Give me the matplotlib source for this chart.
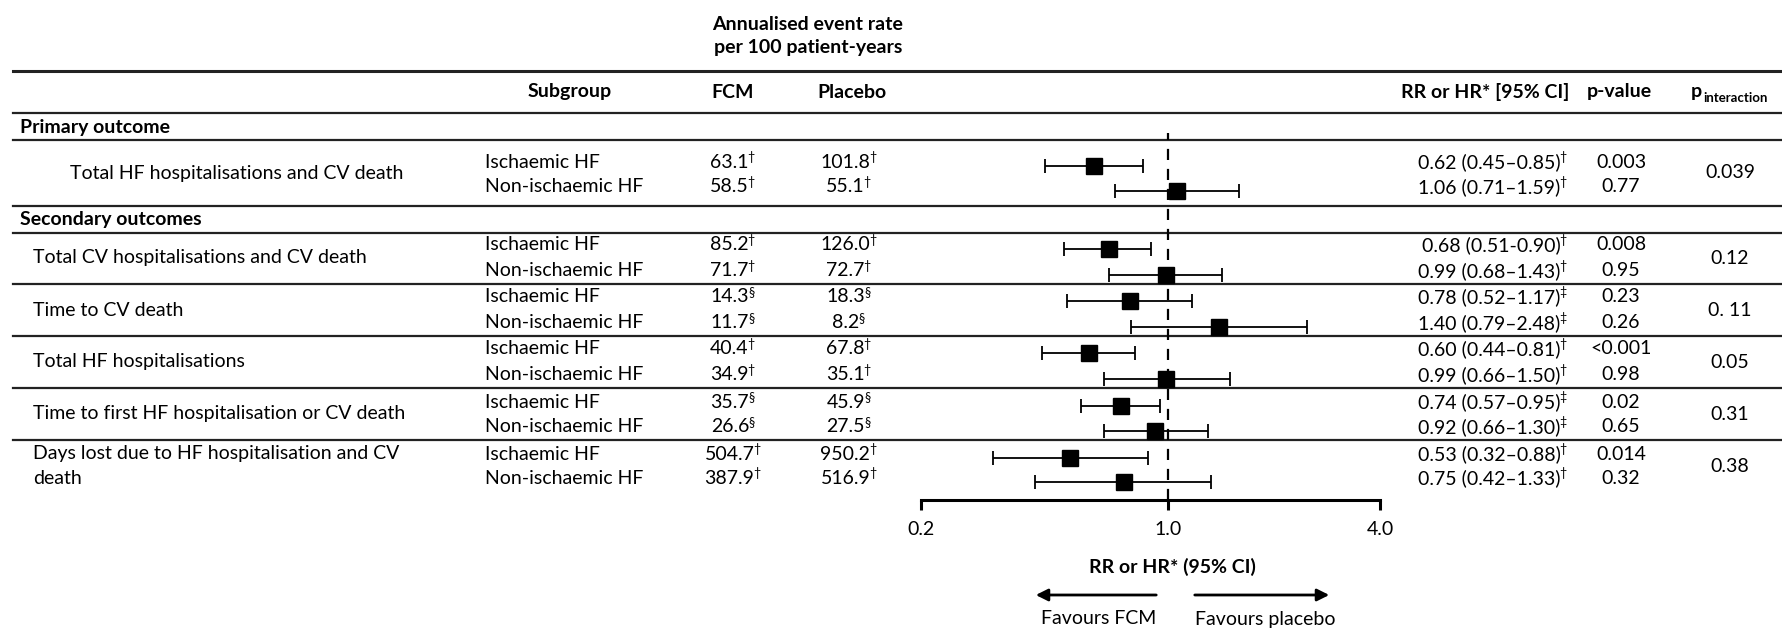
import numpy as np
import matplotlib
matplotlib.use('Agg')
import matplotlib.pyplot as plt

plt.rcParams['font.family'] = ['Lato', 'DejaVu Sans']

# outcome groups and subgroups
outcomes = ['Total HF hospitalisations and CV death',
            'Total CV hospitalisations and CV death',
            'Time to CV death',
            'Total HF hospitalisations',
            'Time to first HF hospitalisation or CV death',
            'Days lost due to HF hospitalisation and CV\ndeath']
subgroups = ['Ischaemic HF', 'Non-ischaemic HF'] * 6

# annualised event rates per 100 patient-years
fcm_rate = ['63.1', '58.5', '85.2', '71.7', '14.3', '11.7',
            '40.4', '34.9', '35.7', '26.6', '504.7', '387.9']
placebo_rate = ['101.8', '55.1', '126.0', '72.7', '18.3', '8.2',
                '67.8', '35.1', '45.9', '27.5', '950.2', '516.9']
rate_mark = ['†', '†', '†', '†', '§', '§', '†', '†', '§', '§', '†', '†']

# RR / HR with 95% CI
est = [0.62, 1.06, 0.68, 0.99, 0.78, 1.40, 0.60, 0.99, 0.74, 0.92, 0.53, 0.75]
lo = [0.45, 0.71, 0.51, 0.68, 0.52, 0.79, 0.44, 0.66, 0.57, 0.66, 0.32, 0.42]
hi = [0.85, 1.59, 0.90, 1.43, 1.17, 2.48, 0.81, 1.50, 0.95, 1.30, 0.88, 1.33]
ci_labels = ['0.62 (0.45–0.85)', '1.06 (0.71–1.59)', '0.68 (0.51-0.90)',
             '0.99 (0.68–1.43)', '0.78 (0.52–1.17)', '1.40 (0.79–2.48)',
             '0.60 (0.44–0.81)', '0.99 (0.66–1.50)', '0.74 (0.57–0.95)',
             '0.92 (0.66–1.30)', '0.53 (0.32–0.88)', '0.75 (0.42–1.33)']
ci_mark = ['†', '†', '†', '†', '‡', '‡', '†', '†', '‡', '‡', '†', '†']
p_values = ['0.003', '0.77', '0.008', '0.95', '0.23', '0.26',
            '<0.001', '0.98', '0.02', '0.65', '0.014', '0.32']
p_interaction = ['0.039', '0.12', '0. 11', '0.05', '0.31', '0.38']
axis_ticks = [0.2, 1.0, 4.0]
axis_ticklabels = ['0.2', '1.0', '4.0']

# layout in pixels
W, H = 1783, 629
FS = 14
SUP_FS = 9
row_y = [162, 187, 245, 271, 297, 323, 349, 375, 402, 427, 454, 478]
group_y = [173, 258, 310, 362, 414, 466]
rule_y = [113, 140, 206, 233, 284, 336, 388, 440]

fig = plt.figure(figsize=(W / 100, H / 100), dpi=100)
tab = fig.add_axes([0, 0, 1, 1])
tab.set_xlim(0, W)
tab.set_ylim(H, 0)
tab.axis('off')
renderer = fig.canvas.get_renderer()


def text_width(s, size):
    t = tab.text(0, 0, s, fontsize=size)
    w = t.get_window_extent(renderer).width
    t.remove()
    return w


def text_with_mark(x, y, base, mark, ha):
    # base text plus a small raised footnote sign
    wb = text_width(base, FS)
    wm = text_width(mark, SUP_FS)
    if ha == 'center':
        x0 = x - (wb + wm) / 2
    else:
        x0 = x - wb - wm
    tab.text(x0, y, base, ha='left', va='center', fontsize=FS)
    tab.text(x0 + wb - 1, y - 5, mark, ha='left', va='center', fontsize=SUP_FS)


# header
tab.text(808, 25, 'Annualised event rate', ha='center', va='center', fontsize=FS, fontweight='bold')
tab.text(808, 48, 'per 100 patient-years', ha='center', va='center', fontsize=FS, fontweight='bold')
tab.plot([13, W], [71, 71], color='#222222', lw=2.2)
hdr = dict(va='center', fontsize=FS, fontweight='bold')
tab.text(570, 92, 'Subgroup', ha='center', **hdr)
tab.text(733, 92, 'FCM', ha='center', **hdr)
tab.text(852, 92, 'Placebo', ha='center', **hdr)
tab.text(1485, 92, 'RR or HR* [95% CI]', ha='center', **hdr)
tab.text(1619, 92, 'p-value', ha='center', **hdr)
tab.text(1691, 92, 'p', ha='left', **hdr)
tab.text(1703, 98, 'interaction', ha='left', va='center', fontsize=9.5, fontweight='bold')

for y in rule_y:
    tab.plot([13, W], [y, y], color='#222222', lw=1.6)

tab.text(20, 127, 'Primary outcome', ha='left', **hdr)
tab.text(20, 219, 'Secondary outcomes', ha='left', **hdr)

for g, name in enumerate(outcomes):
    x = 70 if g == 0 else 33
    tab.text(x, group_y[g], name, ha='left', va='center', fontsize=FS, linespacing=1.5)
    tab.text(1730, group_y[g], p_interaction[g], ha='center', va='center', fontsize=FS)

for i, y in enumerate(row_y):
    tab.text(485, y, subgroups[i], ha='left', va='center', fontsize=FS)
    text_with_mark(733, y, fcm_rate[i], rate_mark[i], 'center')
    text_with_mark(849, y, placebo_rate[i], rate_mark[i], 'center')
    text_with_mark(1568, y, ci_labels[i], ci_mark[i], 'right')
    tab.text(1621, y, p_values[i], ha='center', va='center', fontsize=FS)

# forest plot
left, right, top, bottom = 921, 1380, 133, 500
fp = fig.add_axes([left / W, 1 - bottom / H, (right - left) / W, (bottom - top) / H])
fp.patch.set_alpha(0)
fp.set_xscale('log')
fp.set_xlim(0.2, 4.0)
fp.set_ylim(bottom, top)
for s in ['top', 'left', 'right']:
    fp.spines[s].set_visible(False)
fp.spines['bottom'].set_linewidth(2.2)
fp.set_yticks([])
fp.set_xticks(axis_ticks)
fp.set_xticklabels(axis_ticklabels)
fp.minorticks_off()
fp.tick_params(axis='x', direction='out', length=7, width=2.2, pad=8, labelsize=FS)
fp.axvline(1.0, color='black', lw=1.6, linestyle=(0, (5, 4)))

marker_y = np.array(row_y) + 4
est = np.array(est)
xerr = [est - np.array(lo), np.array(hi) - est]
fp.errorbar(est, marker_y, xerr=xerr, fmt='s', color='black', ms=11,
            elinewidth=1.3, capsize=5, capthick=1.3)

# axis title and arrows
tab.text(1172, 567, 'RR or HR* (95% CI)', ha='center', va='center', fontsize=FS, fontweight='bold')
arrow = dict(arrowstyle='-|>', lw=2, color='black', mutation_scale=18)
tab.annotate('', xy=(1033, 595), xytext=(1159, 595), arrowprops=arrow)
tab.annotate('', xy=(1332, 595), xytext=(1192, 595), arrowprops=arrow)
tab.text(1099, 619, 'Favours FCM', ha='center', va='center', fontsize=FS)
tab.text(1265, 619, 'Favours placebo', ha='center', va='center', fontsize=FS)

fig.savefig('out.png', dpi=100)
